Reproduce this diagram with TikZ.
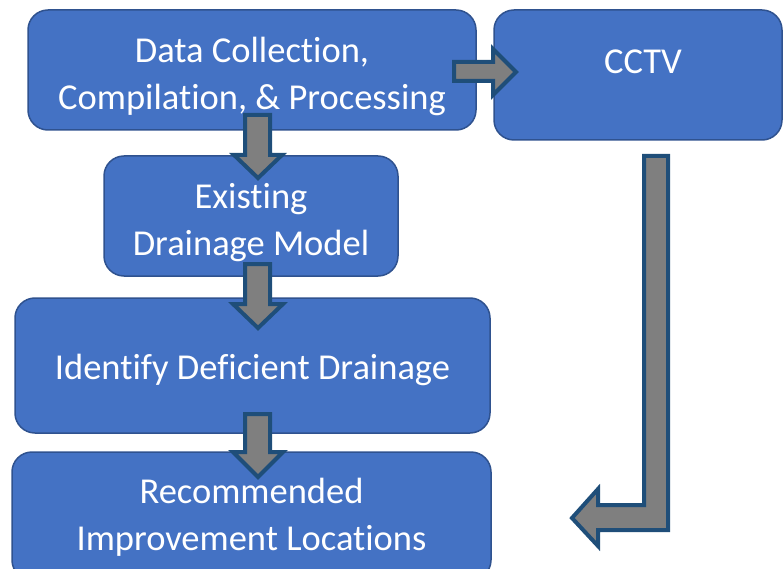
\documentclass[tikz,border=0pt]{standalone}
\usepackage{fontspec}
\setmainfont[Ligatures=NoCommon]{Carlito}
\definecolor{boxfill}{HTML}{4472C4}
\definecolor{boxline}{HTML}{2F528F}
\definecolor{arrfill}{HTML}{7F7F7F}
\definecolor{arrline}{HTML}{1F4E79}
\begin{document}
\begin{tikzpicture}[x=1pt,y=-1pt,
  box/.style={draw=boxline, line width=1.5pt, fill=boxfill, rounded corners=20pt, inner sep=0pt},
  boxtext/.style={text=white, font=\fontsize{36.5}{47}\selectfont, align=center, inner sep=0pt},
  blockarrow/.style={draw=arrline, line width=4pt, fill=arrfill, line join=miter}]
\useasboundingbox (0,0) rectangle (783,569);
\clip (0,0) rectangle (783,569);
% boxes
\node[box, minimum width=448pt, minimum height=120pt] (dc) at (252,70) {};
\node[boxtext] (dctext) at ([yshift=-6pt]dc.center) {Data Collection,\\Compilation, \& Processing};
\node[box, minimum width=288pt, minimum height=130pt] (cctv) at (638,75) {};
\node[boxtext] (cctvtext) at (643,62) {CCTV};
\node[box, minimum width=294pt, minimum height=120pt] (edm) at (251,216) {};
\node[boxtext] (edmtext) at ([yshift=-7pt]edm.center) {Existing\\Drainage Model};
\node[box, minimum width=475pt, minimum height=135pt] (idd) at (252.5,365.5) {};
\node[boxtext] (iddtext) at ([yshift=-4pt]idd.center) {Identify Deficient Drainage};
\node[box, minimum width=479pt, minimum height=128pt] (ril) at (251.5,516) {};
\node[boxtext] (riltext) at ([yshift=-1pt]ril.center) {Recommended\\Improvement Locations};
% block arrows
\draw[blockarrow] (454,62) -- (493,62) -- (493,49) -- (516,72) -- (493,95) -- (493,81) -- (454,81) -- cycle;
\draw[blockarrow] (245,115) -- (270,115) -- (270,155) -- (282,155) -- (258,178) -- (234,155) -- (245,155) -- cycle;
\draw[blockarrow] (245,264) -- (270,264) -- (270,304) -- (283,304) -- (258,328) -- (233,304) -- (245,304) -- cycle;
\draw[blockarrow] (245,414) -- (270,414) -- (270,452) -- (283,452) -- (258,477) -- (233,452) -- (245,452) -- cycle;
\draw[blockarrow] (644,156) -- (668,156) -- (668,530) -- (598,530) -- (598,546) -- (572,518) -- (598,489) -- (598,505) -- (644,505) -- cycle;
\end{tikzpicture}
\end{document}
